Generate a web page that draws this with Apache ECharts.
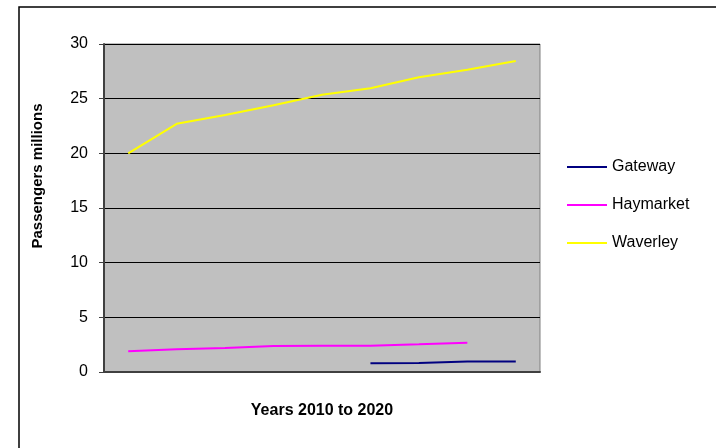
<!DOCTYPE html>
<html>
<head>
<meta charset="utf-8">
<script src="https://cdn.jsdelivr.net/npm/echarts@6/dist/echarts.min.js"></script>
<style>
  html, body { margin: 0; padding: 0; background: #fff; }
  #chart { width: 716px; height: 448px; }
</style>
</head>
<body>
<div id="chart"></div>
<script>
// 9 points along the x axis, no labels shown in the original
const categories = ['1', '2', '3', '4', '5', '6', '7', '8', '9'];
const gateway = ['-', '-', '-', '-', '-', 0.8, 0.82, 0.95, 0.95];
const haymarket = [1.9, 2.07, 2.2, 2.38, 2.4, 2.4, 2.53, 2.68, '-'];
const waverley = [20.0, 22.7, 23.5, 24.4, 25.35, 25.95, 26.95, 27.65, 28.45];
const colors = ['#000080', '#ff00ff', '#ffff00'];

const font = '"Liberation Sans", Arial, sans-serif';

const chart = echarts.init(document.getElementById('chart'));

function lineSeries(name, data, color) {
  return {
    name: name,
    type: 'line',
    data: data,
    symbol: 'none',
    showSymbol: false,
    connectNulls: false,
    lineStyle: { color: color, width: 2 },
    itemStyle: { color: color },
    animation: false
  };
}

const option = {
  animation: false,
  backgroundColor: '#fff',
  textStyle: { fontFamily: font },
  grid: {
    left: 104,
    right: 176,
    top: 44,
    bottom: 76,
    show: true,
    backgroundColor: '#c0c0c0',
    borderColor: '#808080',
    borderWidth: 1
  },
  legend: {
    orient: 'vertical',
    left: 567,
    top: 159,
    padding: 0,
    itemWidth: 40,
    itemHeight: 2,
    itemGap: 22,
    icon: 'rect',
    textStyle: { fontFamily: font, fontSize: 16, color: '#000' },
    data: ['Gateway', 'Haymarket', 'Waverley']
  },
  xAxis: {
    type: 'category',
    data: categories,
    boundaryGap: true,
    name: 'Years 2010 to 2020',
    nameLocation: 'middle',
    nameGap: 31,
    nameTextStyle: { fontFamily: font, fontSize: 16, fontWeight: 'bold', color: '#000' },
    axisLine: { lineStyle: { color: '#404040', width: 2 } },
    axisTick: { interval: 0, length: 7, lineStyle: { color: '#404040' } },
    axisLabel: { show: false },
    splitLine: { show: false }
  },
  yAxis: {
    type: 'value',
    min: 0,
    max: 30,
    interval: 5,
    axisLine: { show: true, lineStyle: { color: '#404040', width: 2 } },
    axisTick: { show: true, length: 5, lineStyle: { color: '#404040' } },
    axisLabel: { margin: 16, fontFamily: font, fontSize: 16, color: '#000' },
    splitLine: { lineStyle: { color: '#000', width: 1 } }
  },
  graphic: [
    {
      type: 'rect',
      x: 19,
      y: 7,
      shape: { width: 800, height: 600 },
      style: { fill: 'none', stroke: '#000', lineWidth: 1.5 },
      silent: true,
      z: -10
    },
    {
      type: 'text',
      x: 38,
      y: 176,
      rotation: Math.PI / 2,
      style: {
        text: 'Passengers millions',
        fontFamily: font,
        fontSize: 15,
        fontWeight: 'bold',
        fill: '#000',
        align: 'center',
        verticalAlign: 'middle'
      }
    }
  ],
  series: [
    lineSeries('Gateway', gateway, colors[0]),
    lineSeries('Haymarket', haymarket, colors[1]),
    lineSeries('Waverley', waverley, colors[2])
  ]
};

chart.setOption(option);
</script>
</body>
</html>
